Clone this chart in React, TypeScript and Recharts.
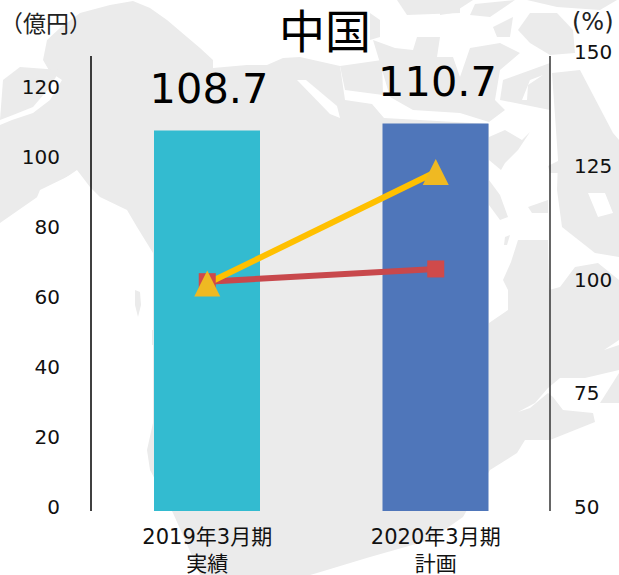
import { Bar, Cell, ComposedChart, LabelList, Line, XAxis, YAxis } from "recharts";

// chart values
const PERIODS = ["2019年3月期", "2020年3月期"];
const KINDS = ["実績", "計画"];
const SALES = [108.7, 110.7];
const RED_LINE = [100.4, 103.2];
const YELLOW_LINE = [100, 124.5];
const BAR_COLORS = ["#33BBD0", "#4F76BA"];
const LEFT_TICKS = [0, 20, 40, 60, 80, 100, 120];
const RIGHT_TICKS = [50, 75, 100, 125, 150];

const data = PERIODS.map((period, i) => ({
  period,
  kind: KINDS[i],
  sales: SALES[i],
  red: RED_LINE[i],
  yellow: YELLOW_LINE[i],
}));

const W = 619;
const H = 575;
const FONT = '"DejaVu Sans", "Noto Sans CJK JP", sans-serif';
const LAND = "#EBEBEB";

// backdrop map of North America, land outlines only
const LAND_SHAPES = [
  // mainland
  "M47,40 60,28 80,13 110,5 133,1 150,8 167,20 187,37 200,48 213,60 213,68 247,65 267,65 283,58 300,57 340,66 345,100 372,104 384,118 420,120 489,124 489,323 508,310 508,290 503,280 511,262 518,240 548,240 549,290 560,287 575,267 598,263 619,280 619,340 604,350 619,345 619,370 585,378 560,378 548,388 535,403 518,412 530,408 548,393 553,397 563,410 593,413 595,422 550,440 525,440 517,453 490,470 463,517 430,540 370,557 317,573 310,575 200,575 197,567 173,513 150,470 147,450 153,423 153,253 137,227 127,210 100,197 90,187 77,170 33,200 0,223 0,125 12,120 33,113 50,100 62,80 50,72 43,60Z",
  // west coast island group
  "M3,80 20,67 60,70 50,87 33,107 13,115 0,120Z",
  "M135,290 140,292 141,305 138,317 135,305Z",
  "M152,330 154,330 154,345 152,345Z",
  // arctic islands
  "M373,40 395,48 413,50 417,37 440,37 437,57 453,57 460,77 470,48 500,43 520,53 500,70 495,100 505,110 489,122 460,113 413,110 390,97 380,63Z",
  "M340,66 382,60 383,95 345,90Z",
  "M370,13 380,20 380,37 370,40Z",
  "M397,0 460,0 460,13 407,15Z",
  "M440,0 473,0 453,13 440,15Z",
  "M475,4 515,0 490,17 470,15Z",
  "M493,27 513,17 510,37 497,37Z",
  "M518,30 530,13 557,13 573,30 575,53 550,55 530,43Z",
  "M527,0 617,0 600,10 557,7Z",
  "M503,80 550,63 550,110 500,100Z",
  "M552,73 580,70 613,133 619,140 619,257 595,253 562,227 557,190 558,160 556,130Z",
  "M489,137 505,130 522,140 530,132 518,150 505,163 501,170 489,160Z",
  "M489,180 500,195 508,217 500,220 489,205Z",
  "M528,207 548,200 548,213 532,213Z",
  "M505,237 510,235 507,245 504,245Z",
  "M548,166 560,160 560,173 550,173Z",
  // newfoundland
  "M600,403 619,373 619,403Z",
];

// white bays and fjords on top of the land
const WATER_SHAPES = [
  "M588,193 605,193 613,213 598,217Z",
  "M297,80 306,80 337,106 340,118 330,114Z",
  "M522,100 530,80 543,75 528,85 527,100Z",
  "M40,190 77,172 60,190 35,202Z",
];

const LeftTick = ({ x, y, payload }: any) => (
  <text x={x} y={y - 4} dy="0.36em" textAnchor="end" fontSize={20} fontFamily={FONT} fill="#111">
    {payload.value}
  </text>
);

const RightTick = ({ x, y, payload }: any) => (
  <text x={x} y={y - 4} dy="0.36em" textAnchor="start" fontSize={20} fontFamily={FONT} fill="#111">
    {payload.value}
  </text>
);

const PeriodTick = ({ x, y, payload, index }: any) => (
  <text textAnchor="middle" fontSize={21} fontFamily={FONT} fill="#111">
    <tspan x={x} y={y + 25}>{payload.value}</tspan>
    <tspan x={x} y={y + 52}>{KINDS[index]}</tspan>
  </text>
);

const ValueLabel = ({ x, y, width, value }: any) => (
  <text x={x + width / 2 + 2} y={y - 28} textAnchor="middle" fontSize={41.5} fontFamily={FONT} fill="#000">
    {value}
  </text>
);

const SquareDot = ({ cx, cy }: any) => (
  <rect x={cx - 8.5} y={cy - 8.5} width={17} height={17} fill="#D04A4A" />
);

const TriangleDot = ({ cx, cy }: any) => (
  <path d={`M${cx},${cy - 13} L${cx + 13},${cy + 13} L${cx - 13},${cy + 13}Z`} fill="#EFB922" />
);

export default function App() {
  return (
    <div style={{ position: "absolute", left: 0, top: 0, width: W, height: H, overflow: "hidden", background: "#fff" }}>
      <svg width={W} height={H} style={{ position: "absolute", left: 0, top: 0 }}>
        {LAND_SHAPES.map((d) => <path key={d} d={d} fill={LAND} />)}
        {WATER_SHAPES.map((d) => <path key={d} d={d} fill="#fff" />)}
      </svg>
      <ComposedChart
        width={W}
        height={H}
        data={data}
        margin={{ top: 56, right: 0, bottom: 0, left: 0 }}
        style={{ position: "absolute", left: 0, top: 0 }}
      >
        <XAxis
          dataKey="period"
          height={64}
          padding={{ left: 2, right: 0 }}
          axisLine={false}
          tickLine={false}
          tick={<PeriodTick />}
          interval={0}
        />
        <YAxis
          yAxisId="left"
          width={91}
          domain={[0, 130]}
          ticks={LEFT_TICKS}
          tickLine={false}
          axisLine={{ stroke: "#000", strokeWidth: 1.5 }}
          tickMargin={25}
          tick={<LeftTick />}
          interval={0}
        />
        <YAxis
          yAxisId="right"
          orientation="right"
          width={69}
          domain={[50, 150]}
          ticks={RIGHT_TICKS}
          tickLine={false}
          axisLine={{ stroke: "#333", strokeWidth: 1.5 }}
          tickMargin={18}
          tick={<RightTick />}
          interval={0}
        />
        <Bar yAxisId="left" dataKey="sales" barSize={106} isAnimationActive={false}>
          {SALES.map((_, i) => <Cell key={i} fill={BAR_COLORS[i]} />)}
          <LabelList dataKey="sales" content={<ValueLabel />} />
        </Bar>
        <Line yAxisId="right" dataKey="red" stroke="#C8484C" strokeWidth={6} dot={<SquareDot />} isAnimationActive={false} />
        <Line yAxisId="right" dataKey="yellow" stroke="#FFC000" strokeWidth={6} dot={<TriangleDot />} isAnimationActive={false} />
      </ComposedChart>
      <div style={{ position: "absolute", left: 279, top: 0, fontSize: 46, lineHeight: "57px", fontFamily: '"Noto Sans CJK JP", sans-serif', color: "#000" }}>中国</div>
      <div style={{ position: "absolute", left: 0, top: 7, fontSize: 23, lineHeight: "30px", fontFamily: '"Noto Sans CJK JP", sans-serif', color: "#222", whiteSpace: "nowrap" }}>（億円）</div>
      <div style={{ position: "absolute", left: 572, top: 7, fontSize: 24, lineHeight: "30px", fontFamily: FONT, color: "#222" }}>(%)</div>
    </div>
  );
}
